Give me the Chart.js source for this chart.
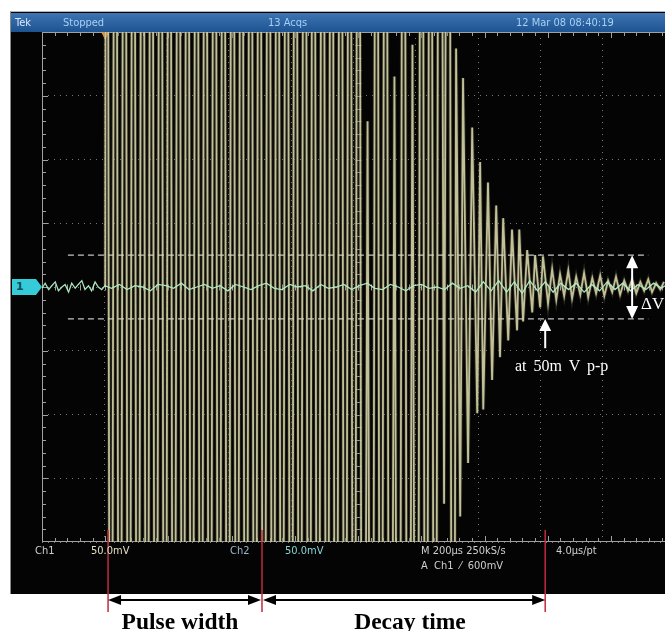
<!DOCTYPE html>
<html>
<head>
<meta charset="utf-8">
<script src="https://cdn.jsdelivr.net/npm/chart.js@4.4.1/dist/chart.umd.min.js"></script>
<style>
  html, body { margin: 0; padding: 0; background: #fff; overflow: hidden; }
  #wrap { position: relative; width: 665px; height: 631px; }
  #panel { position: absolute; left: 10px; top: 11px; width: 655px; height: 582px; background: #040404;
           border-left: 1px solid #8a8a8a; border-top: 1px solid #b4b4b4; z-index: 0; }
  #bar { position: absolute; left: 11px; top: 13px; width: 654px; height: 19px;
         background: linear-gradient(#3d74b2, #1d5390); z-index: 0; }
  canvas { position: absolute; left: 0; top: 0; z-index: 1; }
  .t { position: absolute; white-space: nowrap; z-index: 2; font-size: 11px; line-height: 11px;
       font-family: "Liberation Sans Narrow", "DejaVu Sans Condensed", sans-serif; }
  .bar { color: #a6d0f6; top: 17px; }
  .scope { color: #cfcfcf; }
  .note { position: absolute; white-space: nowrap; z-index: 2; font-family: "Liberation Serif", serif; }
  .big { font-weight: bold; font-size: 23.5px; line-height: 23.5px; color: #000; text-align: center; width: 140px; top: 610px; }
  #gnd { position: absolute; left: 12px; top: 279px; width: 24px; height: 16px; background: #36cbd8; z-index: 2;
         color: #0b4e58; font: bold 11px/16px "DejaVu Sans", sans-serif; padding-left: 4px; box-sizing: border-box; }
  #gnd:after { content: ""; position: absolute; left: 24px; top: 0; border-top: 8px solid transparent;
               border-bottom: 8px solid transparent; border-left: 6px solid #36cbd8; }
</style>
</head>
<body>
<div id="wrap">
  <div id="panel"></div>
  <div id="bar"></div>
  <canvas id="scope" width="665" height="631"></canvas>

  <div class="t bar" style="left:15px;color:#dbe8ff">Tek</div>
  <div class="t bar" style="left:63px">Stopped</div>
  <div class="t bar" style="left:268px">13 Acqs</div>
  <div class="t bar" style="left:516px">12 Mar 08 08:40:19</div>

  <div class="t scope" style="left:35px;top:545px">Ch1</div>
  <div class="t scope" style="left:91px;top:545px;color:#e2dfc4">50.0mV</div>
  <div class="t scope" style="left:230px;top:545px;color:#9fb6c6">Ch2</div>
  <div class="t scope" style="left:285px;top:545px;color:#8ad6d6">50.0mV</div>
  <div class="t scope" style="left:421px;top:545px">M 200µs 250kS/s</div>
  <div class="t scope" style="left:421px;top:560px">A&nbsp; Ch1 &nbsp;⁄&nbsp; 600mV</div>
  <div class="t scope" style="left:556px;top:545px">4.0µs/pt</div>

  <div id="gnd">1</div>

  <div class="note" style="left:515px;top:358px;font-size:16px;line-height:16px;color:#fff;word-spacing:3px">at 50m V p-p</div>
  <div class="note" style="left:641px;top:295px;font-size:17px;line-height:17px;color:#fff">ΔV</div>
  <div class="note big" style="left:110px">Pulse width</div>
  <div class="note big" style="left:340px">Decay time</div>
</div>

<script>
// Ch1: burst and ring-down, time in µs, volts in mV (50 mV/div, ±900 = clipped off screen)
const ch1Time = [
  200, 204, 218, 232, 246, 261, 275, 289, 303, 318,
  332, 346, 360, 375, 389, 403, 417, 432, 446, 460,
  474, 489, 503, 517, 531, 546, 560, 574, 588, 603,
  617, 631, 645, 660, 674, 688, 702, 717, 731, 745,
  759, 774, 788, 802, 816, 831, 845, 859, 873, 888,
  902, 916, 930, 945, 959, 973, 987, 1001, 1015, 1030,
  1044, 1058, 1072, 1087, 1101, 1115, 1129, 1144, 1158, 1172,
  1186, 1201, 1215, 1229, 1243, 1258, 1272, 1286, 1300, 1310,
  1323, 1332, 1348, 1361, 1377, 1386, 1396, 1411, 1424, 1437,
  1449, 1459, 1475, 1487, 1503, 1510, 1522, 1535, 1551, 1560,
  1576, 1585, 1601, 1614, 1627, 1639, 1652, 1665, 1677, 1690,
  1703, 1715, 1728, 1741, 1753, 1766, 1779, 1791, 1804, 1816,
  1829, 1842, 1854, 1867, 1880, 1893, 1905, 1918, 1930, 1943,
  1956, 1968
];
const ch1Volt = [
  0, 900, -900, 900, -900, 900, -900, 900, -900, 900,
  -900, 900, -900, 900, -900, 900, -900, 900, -900, 900,
  -900, 900, -900, 900, -900, 900, -900, 900, -900, 900,
  -900, 900, -900, 900, -900, 900, -900, 900, -900, 900,
  -900, 900, -900, 900, -900, 900, -900, 900, -900, 900,
  -900, 900, -900, 900, -900, 900, -900, 900, -900, 130,
  -900, 900, -900, 900, -900, 165, -900, 900, -900, 190,
  -900, 900, -900, 900, -900, 900, -170, 900, -900, 187,
  -180, 164, -138, 125, -99, 98, -96, 82, -73, 64,
  -55, 54, -42, 45, -34, 45, -27, 29, -20, 25,
  -16, 24, -13, 14, -10, 10, -7, 13, -9, 8,
  -6, 11, -8, 7, -5, 9, -7, 5, -4, 8,
  -6, 5, -3, 6, -5, 4, -3, 6, -4, 3,
  -2, 4
];

// Ch2: baseline noise
const ch2Time = [
  0, 10, 21, 31, 42, 52, 63, 73, 84, 94,
  105, 115, 126, 136, 147, 157, 168, 178, 189, 199,
  220, 245, 269, 294, 318, 343, 367, 392, 416, 441,
  465, 490, 514, 539, 563, 588, 612, 637, 661, 686,
  710, 735, 759, 784, 808, 833, 857, 882, 906, 931,
  955, 980, 1004, 1029, 1053, 1078, 1102, 1127, 1151, 1176,
  1200, 1225, 1249, 1274, 1298, 1323, 1347, 1372, 1396, 1421,
  1445, 1470, 1494, 1519, 1543, 1568, 1592, 1617, 1641, 1666,
  1690, 1715, 1739, 1764, 1788, 1813, 1837, 1862, 1886, 1911,
  1935, 1960, 1971
];
const ch2Volt = [
  -1, 3, -2, 1, 4, -3, 0, 2, -4, 3,
  -1, 2, 5, -2, 1, -3, 4, 0, -2, 1,
  -1, 2, -2, 1, 0, -3, 2, 1, -1, 3,
  -2, 0, 2, -1, 1, -3, 2, 0, -2, 1,
  3, -1, -2, 2, 0, 1, -3, 2, -1, 0,
  2, -2, 1, 3, -1, -2, 2, 0, -3, 1,
  2, -1, 0, -2, 3, -1, 1, -4, 4, -3,
  5, -4, 4, -5, 5, -3, 4, -4, 3, -2,
  3, -4, 2, -3, 4, -2, 3, -3, 2, -2,
  3, -1, 1
];

// cursors (±25 mV = 50 mV p-p) and time markers
const cursorLevels = [25, -25];
const cursorSpan = [82, 1918];
const triggerTime = 200;
const markerTimes = [209, 696, 1592];
const deltaVTime = 1867;
const noteTailLevel = -48;

const xMax = 1971;

const toPoints = (xs, ys) => xs.map((t, i) => ({ x: t, y: ys[i] }));

const graticule = {
  id: 'graticule',
  beforeDatasetsDraw(chart) {
    const { ctx, chartArea: a, scales: { x, y } } = chart;
    const cx = Math.round(x.getPixelForValue(1000)) + 0.5;
    const cy = Math.round(y.getPixelForValue(0)) + 0.5;
    ctx.save();
    ctx.strokeStyle = '#a0a0a0';
    ctx.lineWidth = 1;
    ctx.beginPath();
    ctx.moveTo(a.left + 0.5, a.top); ctx.lineTo(a.left + 0.5, a.bottom);
    ctx.moveTo(a.left, a.top + 0.5); ctx.lineTo(a.right, a.top + 0.5);
    ctx.moveTo(a.left, a.bottom - 0.5); ctx.lineTo(a.right, a.bottom - 0.5);
    for (let t = 40; t < xMax; t += 40) {
      const px = Math.round(x.getPixelForValue(t)) + 0.5;
      const len = t % 200 === 0 ? 6 : 4;
      ctx.moveTo(px, a.top); ctx.lineTo(px, a.top + len);
      ctx.moveTo(px, a.bottom); ctx.lineTo(px, a.bottom - len);
      ctx.moveTo(px, cy - 3); ctx.lineTo(px, cy + 3);
    }
    for (let v = -190; v < 200; v += 10) {
      const py = Math.round(y.getPixelForValue(v)) + 0.5;
      const len = v % 50 === 0 ? 6 : 4;
      ctx.moveTo(a.left, py); ctx.lineTo(a.left + len, py);
      ctx.moveTo(cx - 3, py); ctx.lineTo(cx + 3, py);
    }
    ctx.stroke();
    // trigger position marker
    const tx = x.getPixelForValue(triggerTime);
    ctx.fillStyle = '#f09a3c';
    ctx.beginPath();
    ctx.moveTo(tx - 4, a.top); ctx.lineTo(tx + 4, a.top); ctx.lineTo(tx, a.top + 8);
    ctx.closePath(); ctx.fill();
    ctx.restore();
  }
};

function arrowHead(ctx, tipX, tipY, dirX, dirY, len, half) {
  ctx.beginPath();
  ctx.moveTo(tipX, tipY);
  ctx.lineTo(tipX - dirX * len - dirY * half, tipY - dirY * len + dirX * half);
  ctx.lineTo(tipX - dirX * len + dirY * half, tipY - dirY * len - dirX * half);
  ctx.closePath();
  ctx.fill();
}

const annotations = {
  id: 'annotations',
  afterDraw(chart) {
    const { ctx, scales: { x, y } } = chart;
    const mx = markerTimes.map(t => x.getPixelForValue(t));
    ctx.save();
    // red marker lines
    ctx.strokeStyle = '#c42a3e';
    ctx.lineWidth = 1.5;
    ctx.beginPath();
    mx.forEach(px => { ctx.moveTo(px, 530); ctx.lineTo(px, 612); });
    ctx.stroke();
    // black dimension arrows
    const ay = 600;
    ctx.strokeStyle = '#000';
    ctx.fillStyle = '#000';
    ctx.lineWidth = 2;
    ctx.beginPath();
    ctx.moveTo(mx[0] + 4, ay); ctx.lineTo(mx[1] - 4, ay);
    ctx.moveTo(mx[1] + 4, ay); ctx.lineTo(mx[2] - 4, ay);
    ctx.stroke();
    arrowHead(ctx, mx[0], ay, -1, 0, 13, 5);
    arrowHead(ctx, mx[1] - 1, ay, 1, 0, 13, 5);
    arrowHead(ctx, mx[1] + 1, ay, -1, 0, 13, 5);
    arrowHead(ctx, mx[2], ay, 1, 0, 13, 5);
    // white ΔV double arrow
    const dx = x.getPixelForValue(deltaVTime);
    const yTop = y.getPixelForValue(cursorLevels[0]);
    const yBot = y.getPixelForValue(cursorLevels[1]);
    ctx.strokeStyle = '#fff';
    ctx.fillStyle = '#fff';
    ctx.lineWidth = 2;
    ctx.beginPath();
    ctx.moveTo(dx, yTop + 8); ctx.lineTo(dx, yBot - 8);
    ctx.stroke();
    arrowHead(ctx, dx, yTop, 0, -1, 13, 6);
    arrowHead(ctx, dx, yBot, 0, 1, 13, 6);
    // white pointer to the 50 mV p-p level
    const nx = x.getPixelForValue(markerTimes[2]);
    ctx.beginPath();
    ctx.moveTo(nx, yBot + 8); ctx.lineTo(nx, y.getPixelForValue(noteTailLevel));
    ctx.stroke();
    arrowHead(ctx, nx, yBot, 0, -1, 12, 6);
    ctx.restore();
  }
};

const cursorStyle = {
  borderColor: 'rgba(228,228,228,0.85)', borderWidth: 1.4, borderDash: [6, 4],
  pointRadius: 0, fill: false, order: 3, clip: 0
};

new Chart(document.getElementById('scope'), {
  type: 'line',
  data: {
    datasets: [
      {
        label: 'Ch2', data: toPoints(ch2Time, ch2Volt),
        borderColor: 'rgba(178,240,200,0.95)', borderWidth: 1.3,
        pointRadius: 0, tension: 0, order: 0, clip: 0
      },
      {
        label: 'Ch1', data: toPoints(ch1Time, ch1Volt),
        borderColor: 'rgba(218,214,168,0.88)', borderWidth: 1.8,
        pointRadius: 0, tension: 0, order: 1, clip: 0
      },
      {
        // phosphor persistence glow behind Ch1
        label: 'Ch1 glow', data: toPoints(ch1Time, ch1Volt),
        borderColor: 'rgba(80,82,62,0.45)', borderWidth: 3.6,
        pointRadius: 0, tension: 0, order: 4, clip: 0
      },
      Object.assign({ label: 'Cursor 1', data: toPoints(cursorSpan, [cursorLevels[0], cursorLevels[0]]) }, cursorStyle),
      Object.assign({ label: 'Cursor 2', data: toPoints(cursorSpan, [cursorLevels[1], cursorLevels[1]]) }, cursorStyle)
    ]
  },
  options: {
    responsive: false,
    animation: false,
    events: [],
    layout: { padding: { left: 42, top: 32, right: 0, bottom: 89 } },
    plugins: { legend: { display: false }, tooltip: { enabled: false } },
    scales: {
      x: {
        type: 'linear', min: 0, max: xMax,
        ticks: { display: false, stepSize: 200 },
        grid: { color: 'rgba(150,150,150,0.8)', lineWidth: 1, drawTicks: false },
        border: { display: false, dash: [1, 5] },
        afterFit(scale) { scale.height = 0; }
      },
      y: {
        type: 'linear', min: -200, max: 200,
        ticks: { display: false, stepSize: 50 },
        grid: { color: 'rgba(150,150,150,0.8)', lineWidth: 1, drawTicks: false },
        border: { display: false, dash: [1, 5] },
        afterFit(scale) { scale.width = 0; }
      }
    }
  },
  plugins: [graticule, annotations]
});
</script>
</body>
</html>
